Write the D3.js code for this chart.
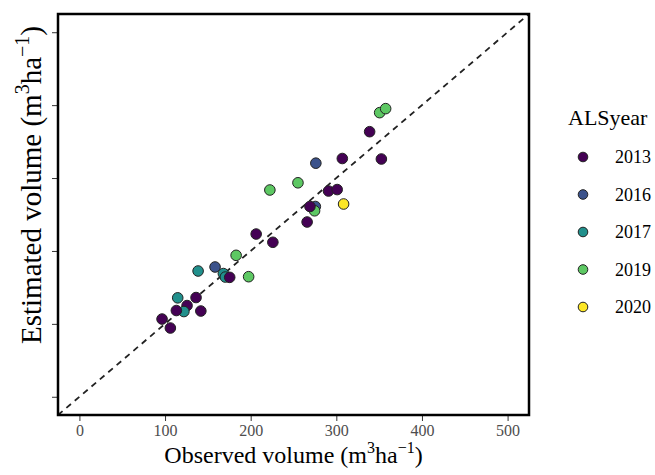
<!DOCTYPE html>
<html>
<head>
<meta charset="utf-8">
<script src="https://cdn.jsdelivr.net/npm/d3@7"></script>
<style>
  body { margin: 0; background: #fff; }
  text { font-family: "Liberation Serif", "DejaVu Serif", serif; }
</style>
</head>
<body>
<svg id="chart" width="655" height="475"></svg>
<script>
// data
var years = ["2013", "2016", "2017", "2019", "2020"];
var colours = ["#440154", "#3B528B", "#21908C", "#5DC863", "#FDE725"];
var observed = [350.6, 357.6, 338.9, 352.6, 276.1, 307.0, 255.2, 222.4, 290.9, 301.0,
                275.5, 274.6, 269.2, 308.5, 265.9, 206.4, 225.9, 183.0, 138.6, 158.4,
                168.1, 170.4, 175.5, 197.6, 114.8, 136.2, 125.7, 122.0, 113.2, 141.8,
                96.5, 106.2];
var estimated = [389.7, 395.2, 363.6, 326.1, 320.4, 326.8, 293.5, 283.6, 282.2, 284.2,
                 261.0, 255.1, 261.0, 264.4, 239.7, 223.2, 211.9, 194.0, 172.5, 178.0,
                 169.0, 164.2, 163.8, 164.7, 135.7, 136.1, 125.1, 116.9, 118.3, 117.6,
                 106.6, 94.3];
var alsYear = ["2019", "2019", "2013", "2013", "2016", "2013", "2019", "2019", "2013", "2013",
               "2016", "2019", "2013", "2020", "2013", "2013", "2013", "2019", "2017", "2016",
               "2017", "2017", "2013", "2019", "2017", "2013", "2013", "2017", "2013", "2013",
               "2013", "2013"];
var xTicks = [0, 100, 200, 300, 400, 500];
var yTicks = [0, 100, 200, 300, 400, 500];

var svg = d3.select("#chart"),
    margin = {top: 14, left: 58},
    width = 471,
    height = 401,
    g = svg.append("g").attr("transform", "translate(" + margin.left + "," + margin.top + ")");

var x = d3.scaleLinear().domain([-25, 525]).range([0, width]);
var y = d3.scaleLinear().domain([-25, 525]).range([height, 0]);
var colour = d3.scaleOrdinal().domain(years).range(colours);

var points = observed.map(function(d, i) {
  return {obs: d, est: estimated[i], year: alsYear[i]};
});

/* x axis */
var xAxis = g.append("g")
    .attr("transform", "translate(0," + height + ")")
    .call(d3.axisBottom(x).tickValues(xTicks).tickSize(6).tickPadding(4));
xAxis.select(".domain").remove();
xAxis.selectAll("line").attr("stroke", "#333").attr("stroke-width", 1);
xAxis.selectAll("text")
    .attr("fill", "#4d4d4d")
    .style("font-family", "'Liberation Serif', serif")
    .style("font-size", "16px");

/* y axis: ticks only, no labels */
var yAxis = g.append("g")
    .call(d3.axisLeft(y).tickValues(yTicks).tickSize(6).tickFormat(""));
yAxis.select(".domain").remove();
yAxis.selectAll("line").attr("stroke", "#333").attr("stroke-width", 1);

/* 1:1 line */
g.append("line")
    .attr("x1", x(-25)).attr("y1", y(-25))
    .attr("x2", x(525)).attr("y2", y(525))
    .attr("stroke", "#222")
    .attr("stroke-width", 1.8)
    .attr("stroke-dasharray", "6,5");

/* points */
g.append("g")
  .selectAll("circle")
  .data(points)
  .enter().append("circle")
    .attr("cx", function(d) { return x(d.obs); })
    .attr("cy", function(d) { return y(d.est); })
    .attr("r", 5.3)
    .attr("fill", function(d) { return colour(d.year); })
    .attr("stroke", "#222")
    .attr("stroke-width", 1);

/* panel border */
g.append("rect")
    .attr("width", width)
    .attr("height", height)
    .attr("fill", "none")
    .attr("stroke", "#000")
    .attr("stroke-width", 2.5);

/* axis titles with superscripts */
function unitLabel(sel, name, size) {
  var up = Math.round(size * 0.4), small = Math.round(size * 0.68);
  sel.append("tspan").text(name + " (m");
  sel.append("tspan").style("font-size", small + "px").attr("dy", -up).text("3");
  sel.append("tspan").attr("dy", up).text("ha");
  sel.append("tspan").style("font-size", small + "px").attr("dy", -up).text("\u22121");
  sel.append("tspan").attr("dy", up).text(")");
}

svg.append("text")
    .attr("x", margin.left + width / 2)
    .attr("y", 463)
    .attr("text-anchor", "middle")
    .style("font-size", "24px")
    .attr("fill", "#000")
    .call(unitLabel, "Observed volume", 24);

svg.append("text")
    .attr("transform", "translate(41,185) rotate(-90)")
    .attr("text-anchor", "middle")
    .style("font-size", "29px")
    .attr("fill", "#000")
    .call(unitLabel, "Estimated volume", 29);

/* legend */
var legend = svg.append("g").attr("transform", "translate(555,0)");
legend.append("text")
    .attr("x", 13)
    .attr("y", 125)
    .style("font-size", "22px")
    .text("ALSyear");

var item = legend.selectAll(".item")
    .data(years)
    .enter().append("g")
    .attr("transform", function(d, i) { return "translate(0," + (157 + i * 37.5) + ")"; });

item.append("circle")
    .attr("cx", 28)
    .attr("r", 4.8)
    .attr("fill", colour)
    .attr("stroke", "#222")
    .attr("stroke-width", 1);

item.append("text")
    .attr("x", 60)
    .attr("dy", "0.35em")
    .style("font-size", "18px")
    .text(function(d) { return d; });
</script>
</body>
</html>
